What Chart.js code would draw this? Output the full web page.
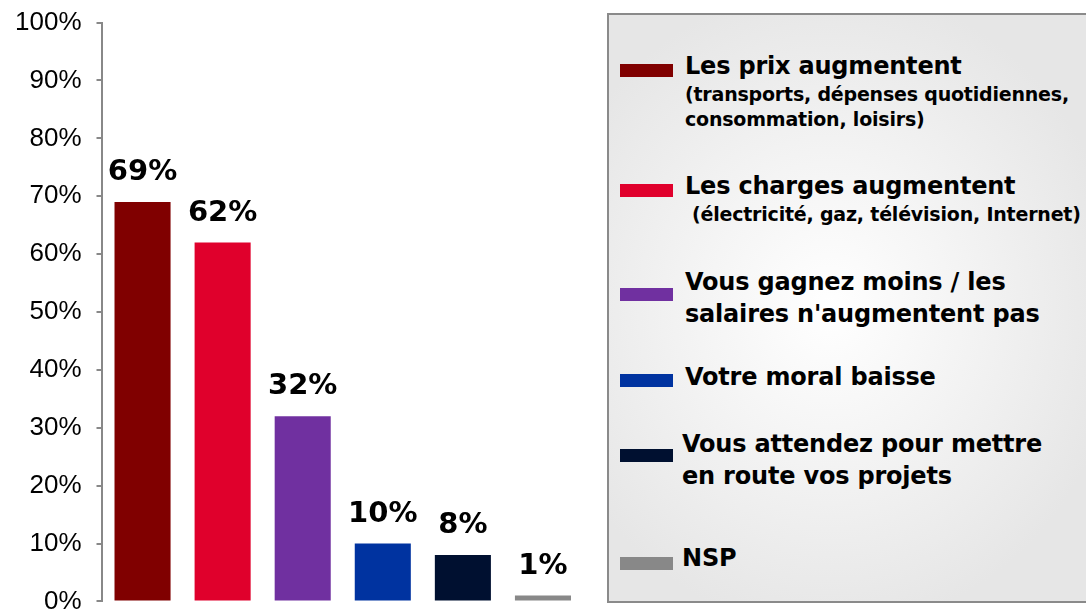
<!DOCTYPE html>
<html lang="fr">
<head>
<meta charset="utf-8">
<title>Raisons</title>
<script src="https://cdn.jsdelivr.net/npm/chart.js"></script>
<style>
  html, body { margin: 0; padding: 0; background: #fff; overflow: hidden; width: 1086px; height: 610px; }
  #wrap { position: absolute; left: 0; top: -8px; width: 600px; height: 640px; }
  #legend {
    position: absolute; left: 607px; top: 13px; width: 490px; height: 586px;
    border: 2px solid #8a8a8a;
    background: radial-gradient(ellipse 60% 55% at 45% 50%, #ffffff 0%, #f4f4f4 45%, #e6e6e6 100%);
    font-family: "DejaVu Sans", Verdana, sans-serif; font-weight: bold; color: #000;
  }
  .item { position: absolute; left: 11px; }
  .sw { position: absolute; left: 0; width: 53px; height: 13px; }
  .txt { padding-left: 65px; white-space: nowrap; }
  .t { font-size: 24px; line-height: 32px; letter-spacing: -0.2px; }
  .s { font-size: 19px; line-height: 25px; margin-top: 0; letter-spacing: -0.2px; }
  .item:nth-child(1) { top: 35px; }  .item:nth-child(1) .sw { top: 14px; }
  .item:nth-child(2) { top: 155px; } .item:nth-child(2) .sw { top: 14px; }
  .item:nth-child(2) .s { padding-left: 7px; }
  .item:nth-child(3) { top: 251px; } .item:nth-child(3) .sw { top: 22px; }
  .item:nth-child(4) { top: 346px; } .item:nth-child(4) .sw { top: 13px; }
  .item:nth-child(5) { top: 413px; } .item:nth-child(5) .sw { top: 21px; }
  .item:nth-child(5) .txt, .item:nth-child(6) .txt { padding-left: 62px; }
  .item:nth-child(6) { top: 527px; } .item:nth-child(6) .sw { top: 15px; }
</style>
</head>
<body>
<div id="wrap"><canvas id="chart"></canvas></div>
<div id="legend"></div>
<script>
// données
const categories = ['Les prix augmentent', 'Les charges augmentent', 'Vous gagnez moins / les salaires n\'augmentent pas',
  'Votre moral baisse', 'Vous attendez pour mettre en route vos projets', 'NSP'];
const titleLines = [
  ['Les prix augmentent'],
  ['Les charges augmentent'],
  ['Vous gagnez moins / les', 'salaires n\'augmentent pas'],
  ['Votre moral baisse'],
  ['Vous attendez pour mettre', 'en route vos projets'],
  ['NSP']
];
const subLines = [
  ['(transports, dépenses quotidiennes,', 'consommation,  loisirs)'],
  ['(électricité, gaz, télévision, Internet)'],
  [], [], [], []
];
const values = [69, 62, 32, 10, 8, 1];
const colors = ['#800000', '#e0002c', '#7030a0', '#0033a0', '#001030', '#888888'];
const yTicks = [0, 10, 20, 30, 40, 50, 60, 70, 80, 90, 100];

// étiquettes au-dessus des barres
const valueLabels = {
  id: 'valueLabels',
  afterDatasetsDraw(chart) {
    const ctx = chart.ctx;
    const meta = chart.getDatasetMeta(0);
    ctx.save();
    ctx.font = 'bold 29px "DejaVu Sans", Verdana, sans-serif';
    ctx.fillStyle = '#000';
    ctx.textAlign = 'center';
    ctx.textBaseline = 'alphabetic';
    meta.data.forEach((bar, i) => {
      ctx.fillText(values[i] + '%', bar.x, bar.y - 22);
    });
    ctx.restore();
  }
};

// légende html construite depuis le graphique
const htmlLegend = {
  id: 'htmlLegend',
  afterUpdate(chart) {
    const box = document.getElementById('legend');
    box.innerHTML = '';
    const ds = chart.data.datasets[0];
    chart.data.labels.forEach((lab, i) => {
      const item = document.createElement('div');
      item.className = 'item';
      const sw = document.createElement('span');
      sw.className = 'sw';
      sw.style.background = ds.backgroundColor[i];
      item.appendChild(sw);
      const txt = document.createElement('div');
      txt.className = 'txt';
      titleLines[i].forEach(l => {
        const d = document.createElement('div');
        d.className = 't';
        d.textContent = l;
        txt.appendChild(d);
      });
      subLines[i].forEach(l => {
        const d = document.createElement('div');
        d.className = 's';
        d.textContent = l;
        txt.appendChild(d);
      });
      item.appendChild(txt);
      box.appendChild(item);
    });
  }
};

new Chart(document.getElementById('chart'), {
  type: 'bar',
  data: {
    labels: categories,
    datasets: [{
      data: values,
      backgroundColor: colors,
      barPercentage: 0.7,
      categoryPercentage: 1.0
    }]
  },
  options: {
    responsive: true,
    maintainAspectRatio: false,
    animation: false,
    layout: { padding: { left: 0, right: 17, top: 0, bottom: 12 } },
    plugins: { legend: { display: false }, tooltip: { enabled: false } },
    scales: {
      x: { display: false },
      y: {
        min: 0, max: 100,
        afterBuildTicks(scale) { scale.ticks = yTicks.map(v => ({ value: v })); },
        ticks: {
          callback: v => v + '%',
          color: '#000',
          padding: 15,
          font: { family: '"Liberation Sans", Arial, sans-serif', size: 26 }
        },
        grid: { drawOnChartArea: false, drawTicks: true, tickLength: 6, color: '#888', lineWidth: 2 },
        border: { display: true, color: '#888', width: 2 }
      }
    }
  },
  plugins: [valueLabels, htmlLegend]
});
</script>
</body>
</html>
